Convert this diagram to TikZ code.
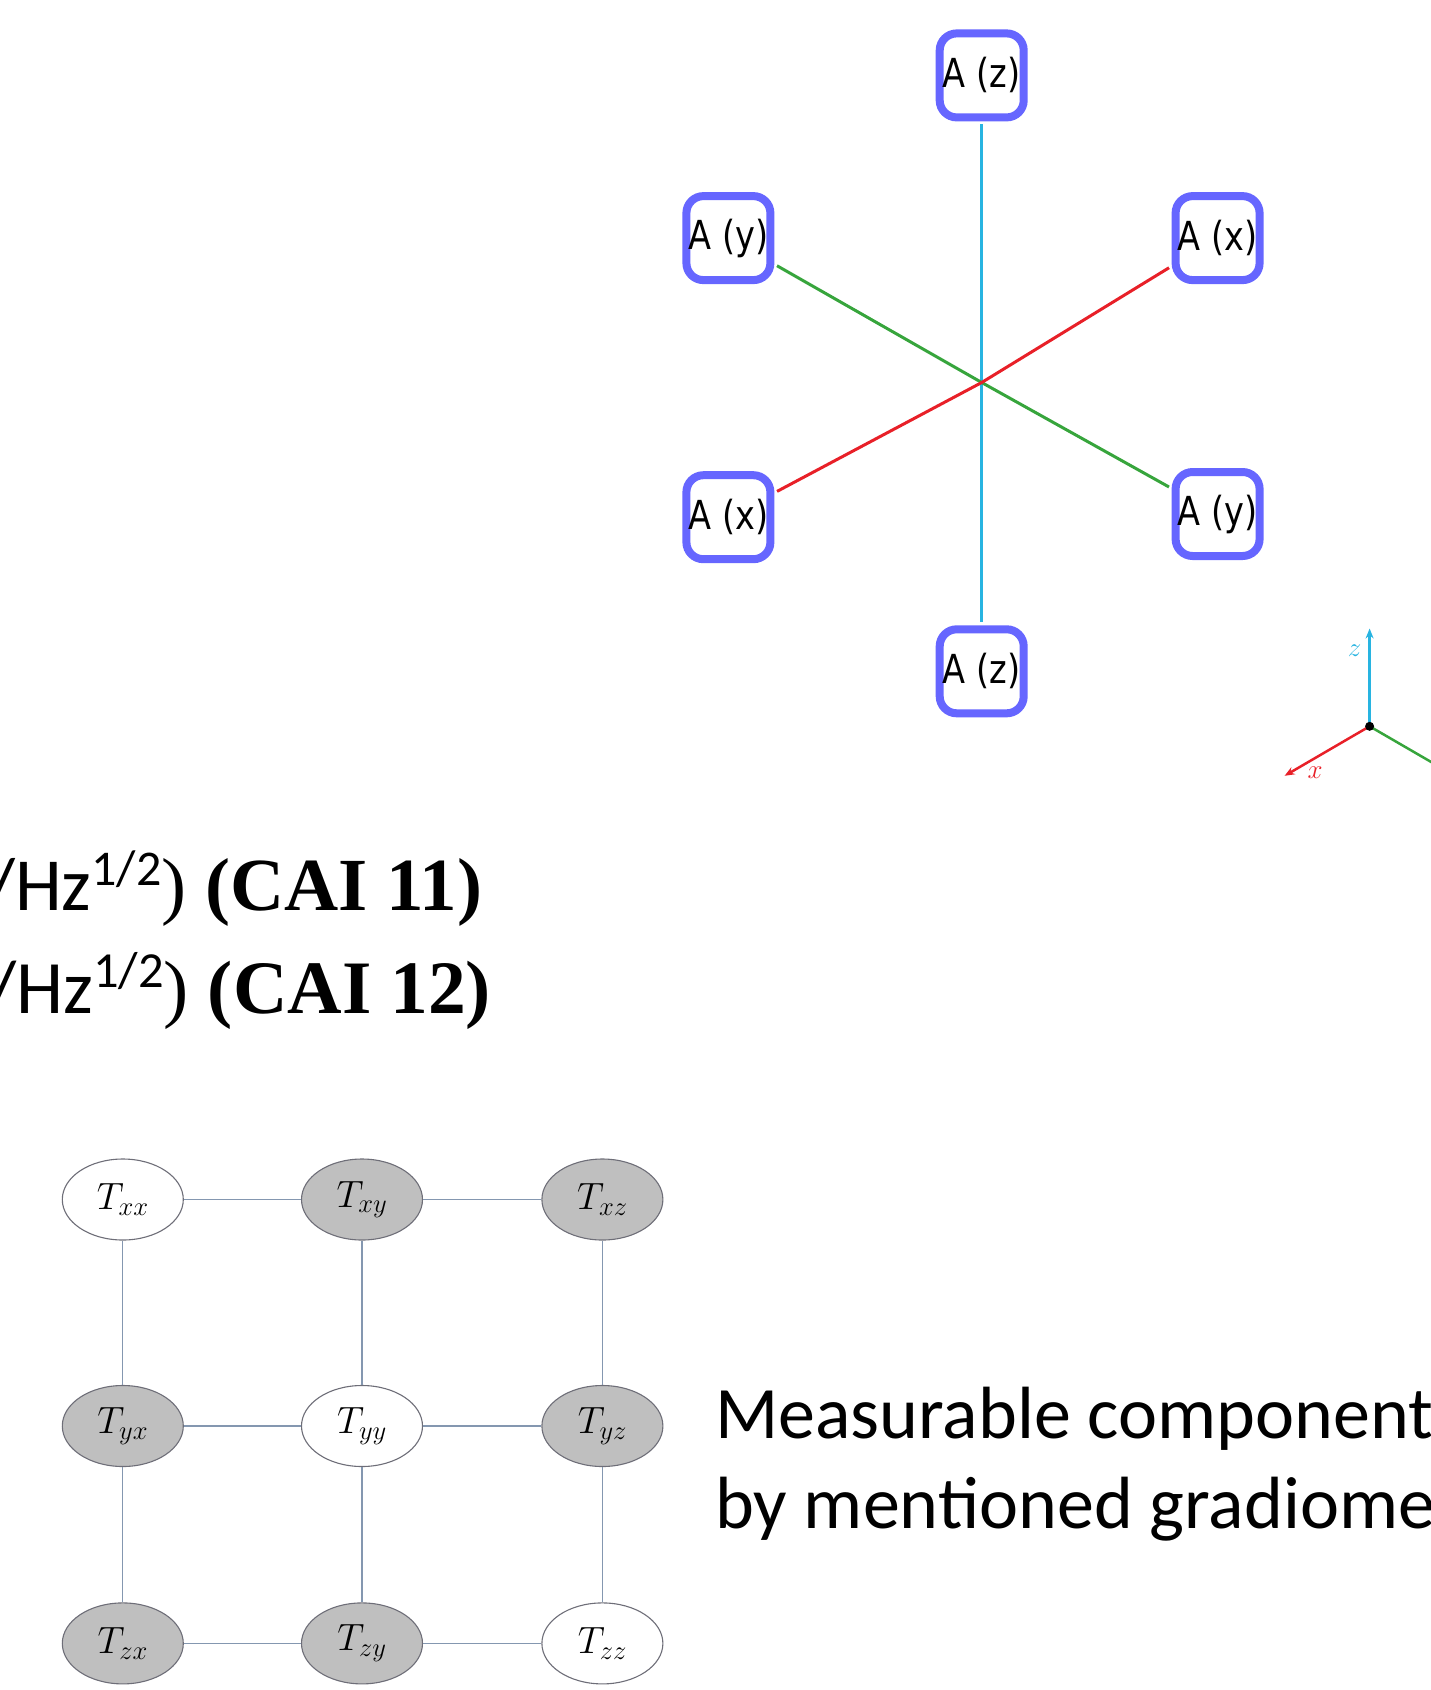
\RequirePackage{fix-cm}
\documentclass[tikz,border=0pt]{standalone}
\usepackage{fontspec}
\setmainfont{Liberation Serif}
\newfontfamily\calib{Carlito}
\newfontfamily\dejavu[FakeStretch=0.84]{DejaVu Sans}
\usetikzlibrary{arrows.meta,shapes.geometric}
\definecolor{boxblue}{RGB}{102,102,255}
\definecolor{zcol}{RGB}{40,180,225}
\definecolor{xcol}{RGB}{232,32,40}
\definecolor{ycol}{RGB}{55,165,60}
\definecolor{gridline}{RGB}{132,151,176}
\definecolor{ellgray}{RGB}{191,191,191}
\definecolor{elledge}{RGB}{110,110,120}
\begin{document}
\begin{tikzpicture}[x=1pt,y=-1pt,
  abox/.style={draw=boxblue, line width=8pt, rounded corners=17pt, fill=white,
    minimum width=84pt, minimum height=84pt, inner sep=0pt,
    font=\dejavu\fontsize{40}{40}\selectfont},
  tens/.style={ellipse, draw=elledge, line width=1.1pt, minimum width=121pt,
    minimum height=81pt, inner sep=0pt, font=\fontsize{38}{38}\selectfont},
  grayT/.style={tens, fill=ellgray},
  whiteT/.style={tens, fill=white},
  conn/.style={draw=gridline, line width=1.3pt},
  hexline/.style={line width=3pt, shorten >=3pt},
  axis/.style={line width=2.5pt, -{Stealth[length=10pt,width=8pt]}},
  bigtext/.style={anchor=base west, inner sep=0pt}
]
\useasboundingbox (0,0) rectangle (1431,1690);
\clip (0,0) rectangle (1431,1690);

% ---------- hexagonal accelerometer arrangement ----------
\coordinate (c) at (981.7,382.5);
\node[abox] (zt) at (981.7,75.4) {A (z)};
\node[abox] (yl) at (728.4,238.1) {A (y)};
\node[abox] (xr) at (1217.6,238.1) {A (x)};
\node[abox] (xl) at (728.4,517.2) {A (x)};
\node[abox] (yr) at (1217.6,514.0) {A (y)};
\node[abox] (zb) at (981.7,671.3) {A (z)};
\draw[hexline, zcol] (c) -- (zt);
\draw[hexline, zcol] (c) -- (zb);
\draw[hexline, ycol] (c) -- (yl);
\draw[hexline, ycol] (c) -- (yr);
\draw[hexline, xcol] (c) -- (xl);
\draw[hexline, xcol] (c) -- (xr);

% ---------- axis triad ----------
\coordinate (o) at (1369.6,726.3);
\coordinate (ztip) at (1369.6,628.5);
\coordinate (xtip) at (1284.6,775.8);
\coordinate (yend) at (1470,784.5);
\draw[axis, zcol] (o) -- (ztip);
\draw[axis, xcol] (o) -- (xtip);
\draw[line width=2.5pt, ycol] (o) -- (yend);
\node[circle, fill=black, inner sep=0pt, minimum size=9pt] (odot) at (o) {};
\node[zcol, font=\fontsize{27}{27}\selectfont] (zl) at (1354.5,651) {$z$};
\node[xcol, font=\fontsize{27}{27}\selectfont] (xl2) at (1315,773) {$x$};

% ---------- text lines (left) ----------
\node[bigtext] (l1) at (-14,910.5) {\calib\fontsize{75}{75}\selectfont /Hz\raisebox{25pt}{\fontsize{50}{50}\selectfont 1/2}\rmfamily) \bfseries (CAI 11)};
\node[bigtext] (l2) at (-13,1013) {\calib\fontsize{75.5}{75.5}\selectfont /Hz\raisebox{25.5pt}{\fontsize{50.5}{50.5}\selectfont 1/2}\rmfamily) \bfseries (CAI 12)};

% ---------- tensor grid ----------
\node[whiteT] (txx) at (122.8,1199.5) {$T_{xx}$};
\node[grayT]  (txy) at (362.0,1199.5) {$T_{xy}$};
\node[grayT]  (txz) at (602.4,1199.5) {$T_{xz}$};
\node[grayT]  (tyx) at (122.8,1426.0) {$T_{yx}$};
\node[whiteT] (tyy) at (362.0,1426.0) {$T_{yy}$};
\node[grayT]  (tyz) at (602.4,1426.0) {$T_{yz}$};
\node[grayT]  (tzx) at (122.8,1643.4) {$T_{zx}$};
\node[grayT]  (tzy) at (362.0,1643.4) {$T_{zy}$};
\node[whiteT] (tzz) at (602.4,1643.4) {$T_{zz}$};
\draw[conn] (txx) -- (txy);
\draw[conn] (txy) -- (txz);
\draw[conn] (tyx) -- (tyy);
\draw[conn] (tyy) -- (tyz);
\draw[conn] (tzx) -- (tzy);
\draw[conn] (tzy) -- (tzz);
\draw[conn] (txx) -- (tyx);
\draw[conn] (tyx) -- (tzx);
\draw[conn] (txy) -- (tyy);
\draw[conn] (tyy) -- (tzy);
\draw[conn] (txz) -- (tyz);
\draw[conn] (tyz) -- (tzz);

% ---------- text (right) ----------
\node[bigtext, font=\calib\fontsize{74}{74}\selectfont] (m1) at (715,1438.6) {Measurable component};
\node[bigtext, font=\calib\fontsize{74}{74}\selectfont] (m2) at (715,1528) {by mentioned gradiome};
\end{tikzpicture}
\end{document}
